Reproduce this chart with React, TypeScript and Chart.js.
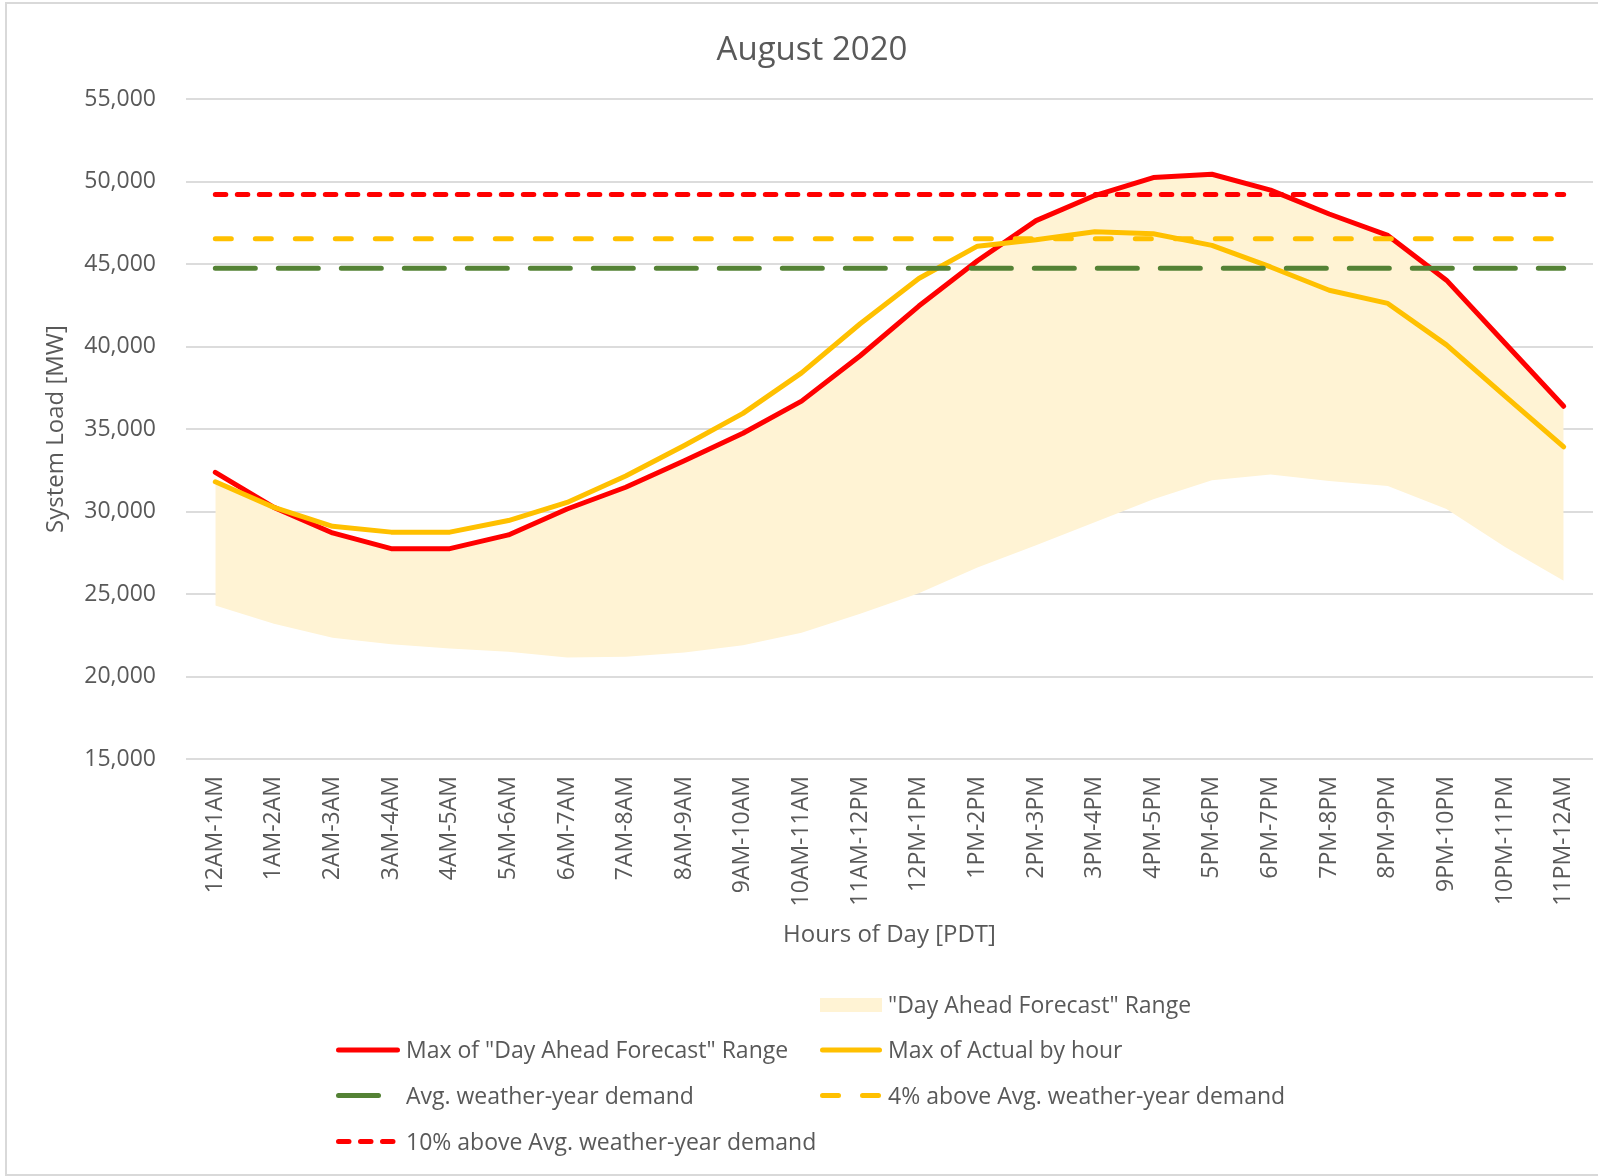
import React, { useEffect, useRef } from 'react';
import { Chart, registerables } from 'chart.js';

Chart.register(...registerables);

// ---------- data ----------
const hourLabels = [
  '12AM-1AM', '1AM-2AM', '2AM-3AM', '3AM-4AM', '4AM-5AM', '5AM-6AM',
  '6AM-7AM', '7AM-8AM', '8AM-9AM', '9AM-10AM', '10AM-11AM', '11AM-12PM',
  '12PM-1PM', '1PM-2PM', '2PM-3PM', '3PM-4PM', '4PM-5PM', '5PM-6PM',
  '6PM-7PM', '7PM-8PM', '8PM-9PM', '9PM-10PM', '10PM-11PM', '11PM-12AM',
];

const dayAheadRangeLow = [
  24300, 23200, 22350, 21950, 21700, 21500, 21150, 21200, 21450, 21900, 22650, 23800,
  25050, 26600, 27950, 29350, 30750, 31900, 32250, 31850, 31550, 30150, 27850, 25800,
];

const dayAheadRangeHigh = [
  31700, 30200, 28700, 27750, 27750, 28580, 30150, 31470, 33070, 34740, 36690, 39440,
  42450, 45200, 47630, 49150, 50240, 50440, 49480, 48030, 46730, 44020, 40200, 36380,
];

const maxDayAheadForecast = [
  32370, 30250, 28700, 27750, 27750, 28580, 30150, 31470, 33070, 34740, 36690, 39440,
  42450, 45200, 47630, 49150, 50240, 50440, 49480, 48030, 46730, 44020, 40200, 36380,
];

const maxActualByHour = [
  31800, 30250, 29100, 28750, 28750, 29450, 30550, 32150, 34000, 35950, 38400, 41380,
  44120, 46080, 46470, 46960, 46830, 46130, 44820, 43410, 42610, 40100, 36990, 33920,
];

const avgWeatherYearDemand = [
  44740, 44740, 44740, 44740, 44740, 44740, 44740, 44740, 44740, 44740, 44740, 44740,
  44740, 44740, 44740, 44740, 44740, 44740, 44740, 44740, 44740, 44740, 44740, 44740,
];

const above4PctDemand = [
  46530, 46530, 46530, 46530, 46530, 46530, 46530, 46530, 46530, 46530, 46530, 46530,
  46530, 46530, 46530, 46530, 46530, 46530, 46530, 46530, 46530, 46530, 46530, 46530,
];

const above10PctDemand = [
  49210, 49210, 49210, 49210, 49210, 49210, 49210, 49210, 49210, 49210, 49210, 49210,
  49210, 49210, 49210, 49210, 49210, 49210, 49210, 49210, 49210, 49210, 49210, 49210,
];

const yMin = 15000;
const yMax = 55000;
const yStep = 5000;

const chartTitle = 'August 2020';
const xAxisTitle = 'Hours of Day [PDT]';
const yAxisTitle = 'System Load [MW]';

// ---------- styles ----------
const TEXT = '#595959';
const FONT = "'Open Sans', sans-serif";
const RED = '#FF0000';
const GOLD = '#FFC000';
const GREEN = '#548235';
const BAND = '#FFF3D4';
const GRID = '#DCDCDC';

const W = 1598;
const H = 1176;

const titlePlugin = {
  id: 'excelTitle',
  afterDraw(chart: any) {
    const ctx = chart.ctx;
    ctx.save();
    ctx.fillStyle = TEXT;
    ctx.font = `33px ${FONT}`;
    ctx.textAlign = 'center';
    ctx.textBaseline = 'alphabetic';
    ctx.fillText(chartTitle, 812, 60);
    ctx.restore();
  },
};

const legendPlugin = {
  id: 'excelLegend',
  afterDraw(chart: any) {
    const ctx = chart.ctx;
    const cols = [
      { x0: 336, x1: 400, tx: 406 },
      { x0: 820, x1: 882, tx: 888 },
    ];
    const rows = [1005, 1050, 1095.5, 1141.5];
    const items = [
      { ds: 1, col: 1, row: 0, box: true },
      { ds: 2, col: 0, row: 1 },
      { ds: 3, col: 1, row: 1 },
      { ds: 4, col: 0, row: 2 },
      { ds: 5, col: 1, row: 2 },
      { ds: 6, col: 0, row: 3 },
    ];
    ctx.save();
    items.forEach((it) => {
      const d = chart.data.datasets[it.ds];
      const c = cols[it.col];
      const y = rows[it.row];
      if (it.box) {
        ctx.fillStyle = d.backgroundColor;
        ctx.fillRect(c.x0, y - 7, c.x1 - c.x0, 14);
      } else {
        const lw = d.borderWidth;
        ctx.strokeStyle = d.borderColor;
        ctx.lineWidth = lw;
        ctx.lineCap = 'round';
        ctx.setLineDash(d.borderDash || []);
        ctx.beginPath();
        ctx.moveTo(c.x0 + lw / 2, y);
        ctx.lineTo(c.x1 - lw / 2, y);
        ctx.stroke();
        ctx.setLineDash([]);
      }
      ctx.fillStyle = TEXT;
      ctx.font = `23px ${FONT}`;
      ctx.textAlign = 'left';
      ctx.textBaseline = 'alphabetic';
      ctx.fillText(d.label, c.tx, y + 8);
    });
    ctx.restore();
  },
};

export default function App() {
  const canvasRef = useRef<HTMLCanvasElement | null>(null);

  useEffect(() => {
    const canvas = canvasRef.current;
    if (!canvas) return;

    const lineBase = {
      pointRadius: 0,
      pointHoverRadius: 0,
      tension: 0,
      fill: false,
      borderCapStyle: 'round' as const,
      borderJoinStyle: 'round' as const,
    };

    const chart = new Chart(canvas, {
      type: 'line',
      data: {
        labels: hourLabels,
        datasets: [
          {
            ...lineBase,
            label: 'Range base',
            data: dayAheadRangeLow,
            borderWidth: 0,
            borderColor: 'rgba(0,0,0,0)',
            backgroundColor: 'rgba(0,0,0,0)',
            order: 7,
          },
          {
            ...lineBase,
            label: '"Day Ahead Forecast" Range',
            data: dayAheadRangeHigh,
            borderWidth: 0,
            borderColor: 'rgba(0,0,0,0)',
            backgroundColor: BAND,
            fill: '-1',
            order: 6,
          },
          {
            ...lineBase,
            label: 'Max of "Day Ahead Forecast" Range',
            data: maxDayAheadForecast,
            borderColor: RED,
            backgroundColor: RED,
            borderWidth: 5,
            order: 5,
          },
          {
            ...lineBase,
            label: 'Max of Actual by hour',
            data: maxActualByHour,
            borderColor: GOLD,
            backgroundColor: GOLD,
            borderWidth: 5,
            order: 4,
          },
          {
            ...lineBase,
            label: 'Avg. weather-year demand',
            data: avgWeatherYearDemand,
            borderColor: GREEN,
            backgroundColor: GREEN,
            borderWidth: 5,
            borderDash: [40, 23],
            order: 3,
          },
          {
            ...lineBase,
            label: '4% above Avg. weather-year demand',
            data: above4PctDemand,
            borderColor: GOLD,
            backgroundColor: GOLD,
            borderWidth: 5,
            borderDash: [16, 24],
            order: 2,
          },
          {
            ...lineBase,
            label: '10% above Avg. weather-year demand',
            data: above10PctDemand,
            borderColor: RED,
            backgroundColor: RED,
            borderWidth: 5,
            borderDash: [10.5, 11.5],
            order: 1,
          },
        ],
      },
      options: {
        animation: false,
        responsive: false,
        devicePixelRatio: 1,
        events: [],
        layout: { padding: { left: 0, right: 5, top: 99, bottom: H - 759 - 200 } },
        plugins: {
          legend: { display: false },
          title: { display: false },
          tooltip: { enabled: false },
        },
        scales: {
          x: {
            type: 'category',
            offset: true,
            grid: { display: false, drawTicks: false },
            border: { display: false },
            ticks: {
              autoSkip: false,
              maxRotation: 90,
              minRotation: 90,
              padding: 17,
              color: TEXT,
              font: { family: FONT, size: 23 },
            },
            title: {
              display: true,
              text: xAxisTitle,
              color: TEXT,
              font: { family: FONT, size: 24 },
              padding: { top: 0, bottom: 9 },
            },
            afterFit: (scale: any) => {
              scale.height = 200;
              scale.paddingLeft = 0;
              scale.paddingRight = 0;
            },
          },
          y: {
            min: yMin,
            max: yMax,
            grid: { color: GRID, lineWidth: 2, drawTicks: false },
            border: { display: false },
            ticks: {
              stepSize: yStep,
              padding: 30,
              color: TEXT,
              font: { family: FONT, size: 23 },
              callback: (v: any) => Number(v).toLocaleString('en-US'),
            },
            title: {
              display: true,
              text: yAxisTitle,
              color: TEXT,
              font: { family: FONT, size: 24 },
              padding: { top: 42, bottom: 0 },
            },
            afterFit: (scale: any) => {
              scale.width = 186;
              scale.paddingTop = 0;
              scale.paddingBottom = 0;
            },
          },
        },
      },
      plugins: [titlePlugin, legendPlugin],
    });

    return () => chart.destroy();
  }, []);

  return (
    <div style={{ position: 'relative', width: W, height: H, overflow: 'hidden', background: '#fff' }}>
      <style>{'html,body{margin:0;padding:0;overflow:hidden;background:#fff}'}</style>
      <canvas
        ref={canvasRef}
        width={W}
        height={H}
        style={{ position: 'absolute', left: 0, top: 0, width: W, height: H }}
      />
      <div
        style={{
          position: 'absolute',
          left: 5,
          top: 2,
          width: W - 5,
          height: H - 2,
          boxSizing: 'border-box',
          borderTop: '2px solid #D9D9D9',
          borderLeft: '2px solid #D9D9D9',
          borderBottom: '2px solid #D9D9D9',
          pointerEvents: 'none',
        }}
      />
    </div>
  );
}
